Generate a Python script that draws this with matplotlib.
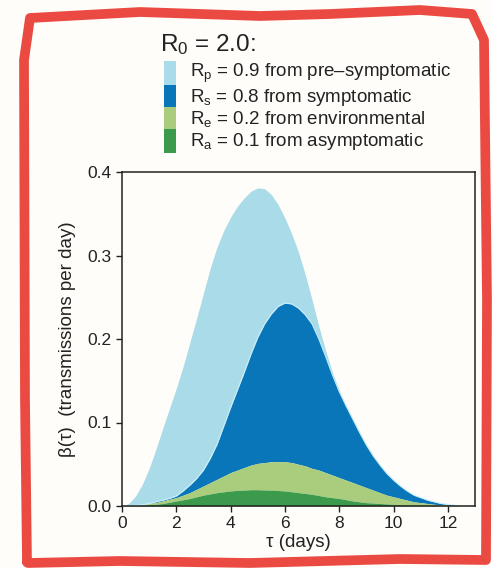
import numpy as np
import matplotlib
matplotlib.use('Agg')
import matplotlib.pyplot as plt
from matplotlib.patches import Rectangle
from matplotlib.lines import Line2D

plt.rcParams['font.family'] = ['Liberation Sans', 'DejaVu Sans']
plt.rcParams['mathtext.fontset'] = 'custom'
plt.rcParams['mathtext.rm'] = 'Liberation Sans'
plt.rcParams['mathtext.it'] = 'Liberation Sans'

# days since infection, 0 to 13 in quarter days
tau = np.arange(0, 13.01, 0.25)

# stacked tops (transmissions per day)
top_asym = [0, 0.0002, 0.0005, 0.001, 0.0015, 0.002, 0.003, 0.0045, 0.006, 0.0075, 0.009, 0.011, 0.013,
            0.0145, 0.016, 0.017, 0.018, 0.0187, 0.019, 0.0195, 0.0195, 0.0192, 0.019, 0.0185, 0.018,
            0.017, 0.016, 0.015, 0.014, 0.0125, 0.011, 0.010, 0.009, 0.0075, 0.006, 0.005, 0.004,
            0.0035, 0.003, 0.0025, 0.002, 0.0015, 0.001, 0.0007, 0.0005, 0.0003, 0.0002, 0.0001, 0,
            0, 0, 0, 0]
top_env = [0, 0.0003, 0.001, 0.0015, 0.003, 0.004, 0.006, 0.008, 0.010, 0.013, 0.016, 0.020, 0.024,
           0.028, 0.032, 0.036, 0.040, 0.043, 0.046, 0.049, 0.051, 0.052, 0.053, 0.053, 0.053,
           0.052, 0.050, 0.048, 0.045, 0.043, 0.040, 0.037, 0.034, 0.031, 0.028, 0.025, 0.022,
           0.019, 0.016, 0.013, 0.011, 0.009, 0.007, 0.005, 0.004, 0.003, 0.002, 0.0015, 0.001,
           0.0005, 0, 0, 0]
top_sym = [0, 0.0002, 0.0006, 0.0015, 0.003, 0.005, 0.007, 0.009, 0.012, 0.018, 0.025, 0.033, 0.043,
           0.057, 0.074, 0.096, 0.118, 0.139, 0.160, 0.182, 0.202, 0.218, 0.230, 0.239, 0.243,
           0.242, 0.237, 0.229, 0.218, 0.200, 0.179, 0.157, 0.137, 0.120, 0.104, 0.088, 0.073,
           0.060, 0.049, 0.039, 0.031, 0.024, 0.018, 0.013, 0.010, 0.007, 0.005, 0.003, 0.002,
           0.001, 0, 0, 0]
top_pre = [0, 0.003, 0.012, 0.026, 0.045, 0.068, 0.093, 0.117, 0.141, 0.167, 0.196, 0.225, 0.255,
           0.285, 0.310, 0.330, 0.346, 0.359, 0.369, 0.377, 0.381, 0.380, 0.373, 0.361, 0.345,
           0.326, 0.304, 0.277, 0.247, 0.215, 0.186, 0.160, 0.138, 0.120, 0.104, 0.088, 0.073,
           0.060, 0.049, 0.039, 0.031, 0.024, 0.018, 0.013, 0.010, 0.007, 0.005, 0.003, 0.002,
           0.001, 0, 0, 0]

labels = [r'R$_\mathrm{p}$ = 0.9 from pre–symptomatic',
          r'R$_\mathrm{s}$ = 0.8 from symptomatic',
          r'R$_\mathrm{e}$ = 0.2 from environmental',
          r'R$_\mathrm{a}$ = 0.1 from asymptomatic']
colors = ['#a9dbe9', '#0a76ba', '#a9cd7c', '#3c9a4c']

W, H = 492, 569
fig = plt.figure(figsize=(W / 100, H / 100), dpi=100)
fig.patch.set_facecolor('#fefdf9')

ax = fig.add_axes([122 / W, 1 - 506 / H, (475 - 122) / W, (506 - 172) / H])
ax.set_facecolor('#fefdf9')

zero = np.zeros(len(tau))
ax.fill_between(tau, top_sym, top_pre, color=colors[0], lw=0)
ax.fill_between(tau, top_env, top_sym, color=colors[1], lw=0)
ax.fill_between(tau, top_asym, top_env, color=colors[2], lw=0)
ax.fill_between(tau, zero, top_asym, color=colors[3], lw=0)
# faint pale rim along the symptomatic edge
ax.plot(tau, top_sym, color='#c9eef8', lw=0.8)

ax.set_xlim(0, 13)
ax.set_ylim(0, 0.4)
ax.set_xticks([0, 2, 4, 6, 8, 10, 12])
ax.set_yticks([0.0, 0.1, 0.2, 0.3, 0.4])
ax.set_yticklabels(['0.0', '0.1', '0.2', '0.3', '0.4'])
ax.tick_params(direction='out', length=4, width=1, labelsize=12.5, color='#222222', labelcolor='#222222')
for s in ax.spines.values():
    s.set_linewidth(1.1)
    s.set_color('#222222')
ax.set_xlabel('τ (days)', fontsize=13.5, color='#222222', labelpad=2)
ax.set_ylabel('β(τ)  (transmissions per day)', fontsize=13.5, color='#222222', labelpad=8)

# legend block
fig.text(160 / W, 1 - 45 / H, r'R$_0$ = 2.0:', fontsize=17.5, color='#222222', va='center')
row_y = [73, 97, 119, 141]
for lab, c, y in zip(labels, colors, row_y):
    fig.patches.append(Rectangle((164 / W, 1 - (y + 11.5) / H), 12 / W, 23 / H,
                                 transform=fig.transFigure, color=c, lw=0))
    fig.text(190 / W, 1 - y / H, lab, fontsize=13.5, color='#222222', va='center')

# hand drawn red frame
bx = [27, 25, 24, 30, 140, 260, 330, 420, 472, 484, 487, 486, 400, 250, 120, 28, 27]
by = [562, 400, 60, 18, 12, 16, 14, 10, 14, 40, 300, 560, 559, 563, 561, 563, 562]
fig.lines.append(Line2D([x / W for x in bx], [1 - y / H for y in by], transform=fig.transFigure,
                        color='#ea4a42', lw=7, solid_joinstyle='round', solid_capstyle='round'))

fig.savefig('out.png', dpi=100, facecolor=fig.get_facecolor())
